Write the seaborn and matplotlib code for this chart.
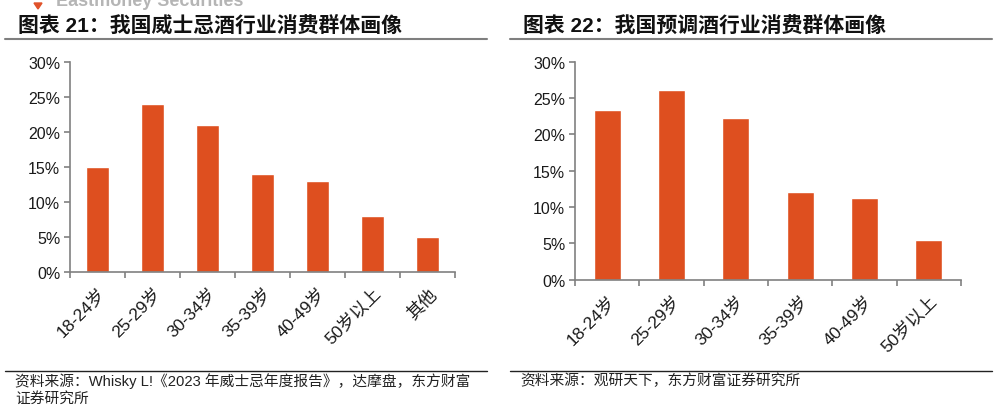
import matplotlib
matplotlib.use("Agg")
import matplotlib.pyplot as plt
import seaborn as sns
import pandas as pd
from matplotlib.ticker import FuncFormatter, FixedLocator
from matplotlib.patches import Polygon

sns.set_theme(style="white")
plt.rcParams['font.family'] = ['Liberation Sans', 'Noto Sans CJK SC', 'DejaVu Sans']

# ---- data ----
whisky_groups = ["18-24岁", "25-29岁", "30-34岁", "35-39岁", "40-49岁", "50岁以上", "其他"]
whisky_share = [15.0, 24.0, 21.0, 14.0, 13.0, 8.0, 5.0]

rtd_groups = ["18-24岁", "25-29岁", "30-34岁", "35-39岁", "40-49岁", "50岁以上"]
rtd_share = [23.3, 26.1, 22.3, 12.1, 11.2, 5.5]

titles = ["图表 21：我国威士忌酒行业消费群体画像", "图表 22：我国预调酒行业消费群体画像"]
sources = ["资料来源：Whisky L!《2023 年威士忌年度报告》，达摩盘，东方财富\n证券研究所",
           "资料来源：观研天下，东方财富证券研究所"]
yticks = [0, 5, 10, 15, 20, 25, 30]

BAR = "#DE4F1F"
AXIS = "#808080"

fig = plt.figure(figsize=(9.97, 4.14), dpi=100)
W, H = 997, 414

def fx(px):
    return px / W

def fy(py):
    return 1 - py / H

ax1 = fig.add_axes([fx(70), fy(273), 385 / W, (273 - 62.7) / H])
ax2 = fig.add_axes([fx(575), fy(280.7), 386 / W, (280.7 - 62.7) / H])

for ax, cats, vals in [(ax1, whisky_groups, whisky_share), (ax2, rtd_groups, rtd_share)]:
    df = pd.DataFrame({"group": cats, "share": vals})
    sns.barplot(data=df, x="group", y="share", color=BAR, saturation=1, width=0.42, ax=ax)
    n = len(cats)
    ax.set_xlim(-0.5, n - 0.5)
    ax.set_ylim(0, 30)
    ax.set_yticks(yticks)
    ax.yaxis.set_major_formatter(FuncFormatter(lambda v, p: f"{v:.0f}%"))
    ax.set_xlabel("")
    ax.set_ylabel("")
    for s in ["top", "right"]:
        ax.spines[s].set_visible(False)
    for s in ["left", "bottom"]:
        ax.spines[s].set_color(AXIS)
        ax.spines[s].set_linewidth(1.2)
        ax.spines[s].set_zorder(5)
    ax.xaxis.set_minor_locator(FixedLocator([i - 0.5 for i in range(n + 1)]))
    ax.tick_params(axis="x", which="major", length=0, pad=9)
    ax.tick_params(axis="x", which="minor", length=4, width=1.2, color=AXIS, direction="out", bottom=True)
    ax.tick_params(axis="y", which="major", length=4, width=1.2, color=AXIS, direction="out", left=True,
                   labelsize=11.5, labelcolor="#1a1a1a", pad=3)
    for lab in ax.get_xticklabels():
        lab.set_rotation(45)
        lab.set_ha("right")
        lab.set_va("top")
        lab.set_rotation_mode("anchor")
        lab.set_fontsize(12.5)
        lab.set_color("#1a1a1a")
    ax.patch.set_alpha(0)

# headers and footers
for i, (x0, x1) in enumerate([(5, 487), (510, 992)]):
    fig.text(fx(x0 + 13), fy(26), titles[i], fontsize=15, fontweight="bold", va="center", ha="left",
             color="#111111", family=['Liberation Sans', 'Noto Sans CJK SC'])
    fig.add_artist(plt.Line2D([fx(x0), fx(x1)], [fy(40), fy(40)], color="#7f7f7f", lw=1.5))
    fig.add_artist(plt.Line2D([fx(x0), fx(x1)], [fy(371.5), fy(371.5)], color="#222222", lw=1.0))
    fig.text(fx(x0 + 10), fy(373), sources[i], fontsize=10.6, va="top", ha="left",
             color="#222222", linespacing=1.3)

# faded brand text at top (clipped, as in the reference)
fig.text(fx(56), fy(2), "Eastmoney Securities", fontsize=13, fontweight="bold", color="#b5b5b5",
         va="center", ha="left")
fig.add_artist(Polygon([[fx(34), fy(4)], [fx(42), fy(4)], [fx(38), fy(10)]], closed=True,
                       color="#E0522A", transform=fig.transFigure))

fig.savefig("out.png", dpi=100)
